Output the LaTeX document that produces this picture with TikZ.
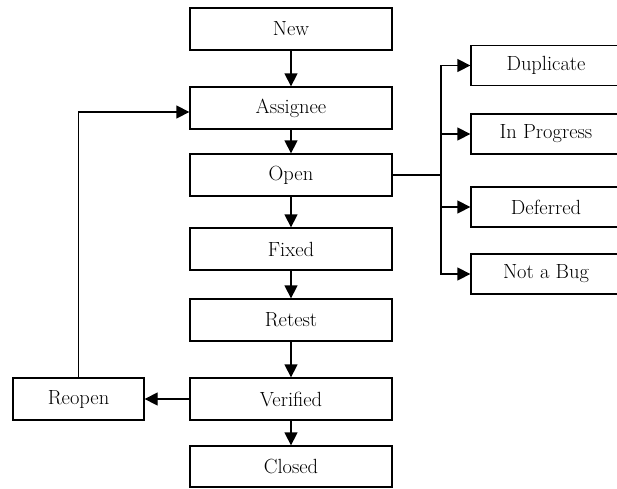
\documentclass[tikz,border=0pt]{standalone}
\usetikzlibrary{arrows.meta}
\tikzset{
  box/.style={draw, line width=1.3pt, minimum width=202pt, minimum height=42pt, inner sep=0pt, font=\fontsize{20.5}{22}\selectfont},
  sidebox/.style={box, minimum width=150pt, minimum height=40pt},
  arr/.style={line width=1.3pt, -{Triangle[length=13pt,width=13pt]}},
  ln/.style={line width=1.3pt}
}
\begin{document}
\begin{tikzpicture}[x=1pt,y=-1pt]
\useasboundingbox (0,0) rectangle (617,488);
\clip (0,0) rectangle (617,488);
\node[box] (new) at (291,29) {New};
\node[box] (assignee) at (291,108) {Assignee};
\node[box] (open) at (291,175) {Open};
\node[box] (fixed) at (291,249) {Fixed};
\node[box] (retest) at (291,320) {Retest};
\node[box] (verified) at (291,399) {Verified};
\node[box, minimum height=41pt] (closed) at (291,466.5) {Closed};
\node[box, minimum width=131pt] (reopen) at (78.5,399) {Reopen};
\node[sidebox] (dup) at (546,65.5) {Duplicate};
\node[sidebox] (prog) at (546,134) {In Progress};
\node[sidebox] (def) at (546,207) {Deferred};
\node[sidebox] (nab) at (546,274) {Not a Bug};
\coordinate (br) at (441,175);
\draw[arr] (new) -- (assignee);
\draw[arr] (assignee) -- (open);
\draw[arr] (open) -- (fixed);
\draw[arr] (fixed) -- (retest);
\draw[arr] (retest) -- (verified);
\draw[arr] (verified) -- (closed);
\draw[arr] (verified) -- (reopen);
\draw[arr] (reopen.north) |- ([yshift=-4pt]assignee.west);
\draw[ln] (open.east) -- (br);
\draw[arr] (br) |- (dup.west);
\draw[arr] (br) |- (prog.west);
\draw[arr] (br) |- (def.west);
\draw[arr] (br) |- (nab.west);
\end{tikzpicture}
\end{document}
